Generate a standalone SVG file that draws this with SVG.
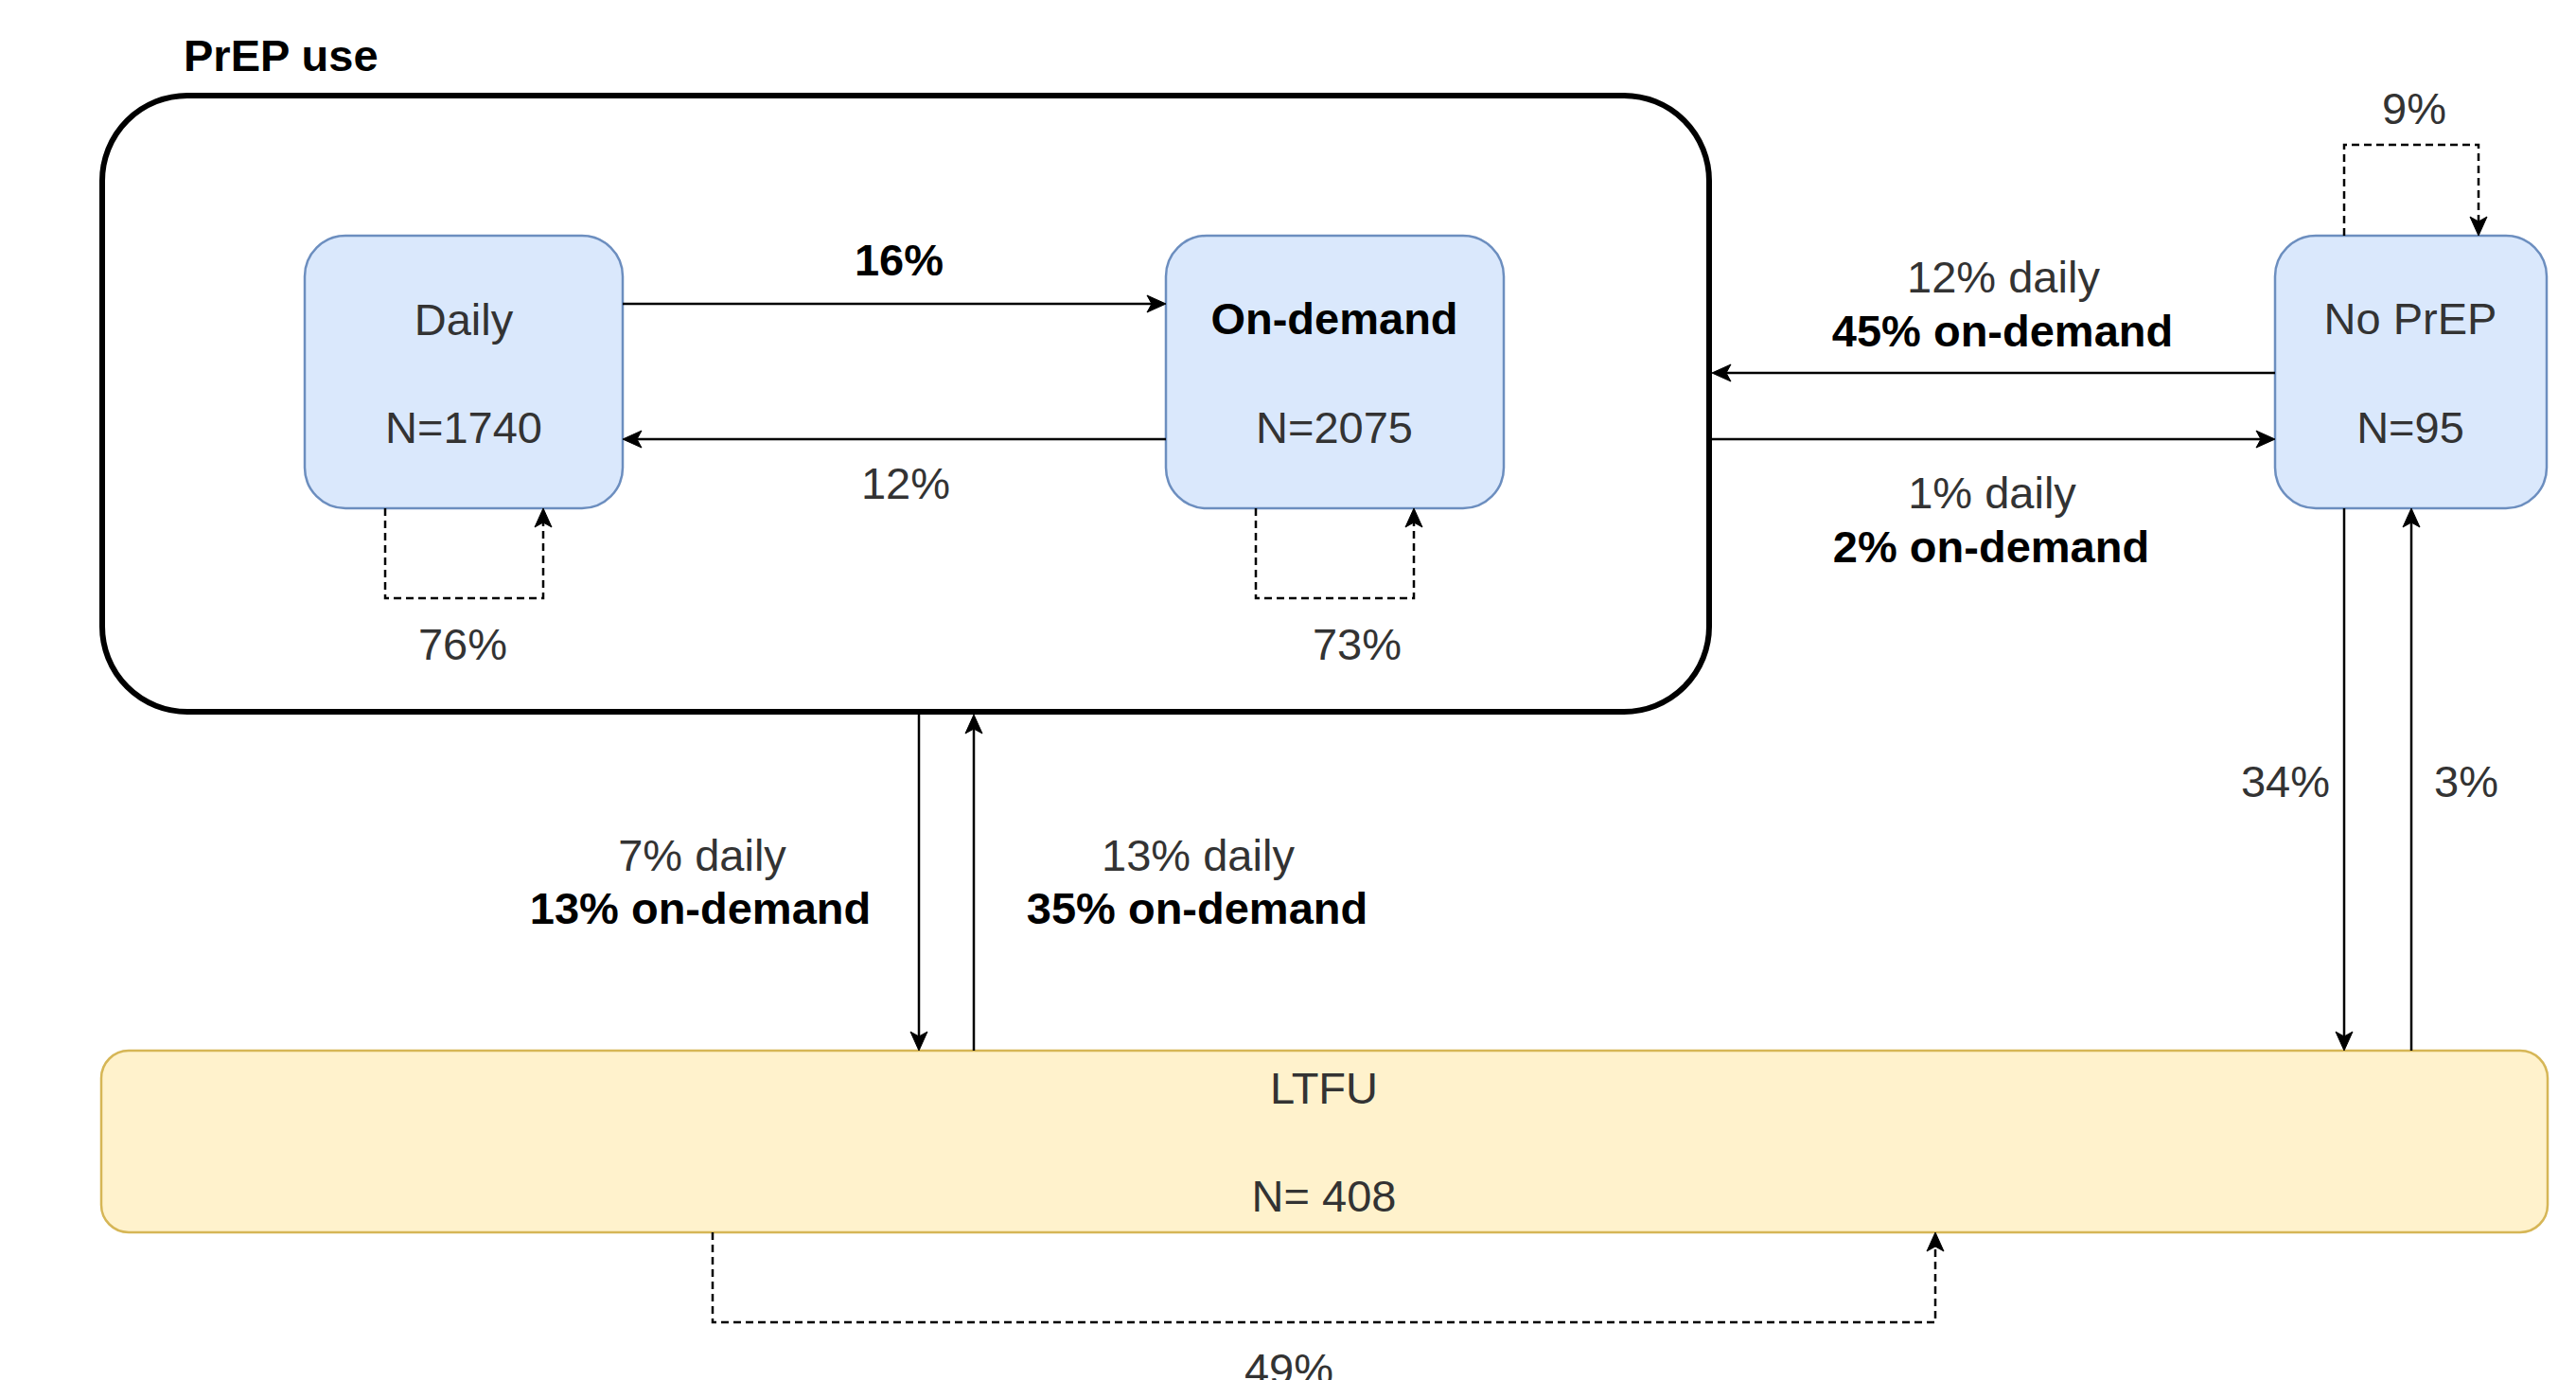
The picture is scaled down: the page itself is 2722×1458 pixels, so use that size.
<svg xmlns="http://www.w3.org/2000/svg" width="2722" height="1458" viewBox="0 0 2722 1458">
  <style>
    text { font-family: "Liberation Sans", Arial, sans-serif; font-size: 47px; fill: #333333; }
    .b { font-weight: bold; fill: #000000; }
    .c { text-anchor: middle; }
    .state { fill: #dae8fc; stroke: #6c8ebf; stroke-width: 2.5; }
    .ltfu { fill: #fff2cc; stroke: #d6b656; stroke-width: 2.5; }
    .group { fill: none; stroke: #000000; stroke-width: 6; }
    .edge { fill: none; stroke: #000000; stroke-width: 2.5; }
    .loop { fill: none; stroke: #000000; stroke-width: 2.5; stroke-dasharray: 8 5; }
  </style>
  <defs>
    <marker id="arrow" markerUnits="userSpaceOnUse" markerWidth="22" markerHeight="22" refX="5" refY="10" orient="auto" overflow="visible">
      <path d="M20,10 L0,1 L5,10 L0,19 Z" fill="#000000" stroke="#000000" stroke-width="1" stroke-linejoin="miter"/>
    </marker>
  </defs>

  <rect width="2722" height="1458" fill="#ffffff"/>

  <!-- PrEP use container -->
  <g id="prep-use">
    <rect class="group" x="108" y="101" width="1698" height="651" rx="90" ry="90"/>
    <text class="b" x="194" y="75">PrEP use</text>
  </g>

  <g id="daily">
    <rect class="state" x="322" y="249" width="336" height="288" rx="43" ry="43"/>
    <text class="c" x="490" y="354">Daily</text>
    <text class="c" x="490" y="468">N=1740</text>
  </g>

  <g id="on-demand">
    <rect class="state" x="1232" y="249" width="357" height="288" rx="43" ry="43"/>
    <text class="c b" x="1410" y="353">On-demand</text>
    <text class="c" x="1410" y="468">N=2075</text>
  </g>

  <g id="no-prep">
    <rect class="state" x="2404" y="249" width="287" height="288" rx="43" ry="43"/>
    <text class="c" x="2547" y="353">No PrEP</text>
    <text class="c" x="2547" y="468">N=95</text>
  </g>

  <g id="ltfu">
    <rect class="ltfu" x="107" y="1110" width="2585" height="192" rx="29" ry="29"/>
    <text class="c" x="1399" y="1166">LTFU</text>
    <text class="c" x="1399" y="1280">N= 408</text>
  </g>

  <!-- transitions -->
  <g id="connectors">
    <path class="edge" d="M658,321 H1217" marker-end="url(#arrow)"/>
    <path class="edge" d="M1232,464 H673" marker-end="url(#arrow)"/>
    <path class="edge" d="M2404,394 H1824" marker-end="url(#arrow)"/>
    <path class="edge" d="M1809,464 H2389" marker-end="url(#arrow)"/>
    <path class="edge" d="M971,755 V1095" marker-end="url(#arrow)"/>
    <path class="edge" d="M1029,1110 V770" marker-end="url(#arrow)"/>
    <path class="edge" d="M2477,537 V1095" marker-end="url(#arrow)"/>
    <path class="edge" d="M2548,1110 V552" marker-end="url(#arrow)"/>

    <!-- staying in the same state -->
    <path class="loop" d="M407,537 V632 H574 V552" marker-end="url(#arrow)"/>
    <path class="loop" d="M1327,537 V632 H1494 V552" marker-end="url(#arrow)"/>
    <path class="loop" d="M2477,249 V153 H2619 V234" marker-end="url(#arrow)"/>
    <path class="loop" d="M753,1302 V1397 H2045 V1317" marker-end="url(#arrow)"/>

    <!-- edge labels -->
    <text class="c b" x="950" y="291">16%</text>
    <text class="c" x="957" y="527">12%</text>
    <text class="c" x="489" y="697">76%</text>
    <text class="c" x="1434" y="697">73%</text>
    <text class="c" x="2117" y="309">12% daily</text>
    <text class="c b" x="2116" y="366">45% on-demand</text>
    <text class="c" x="2105" y="537">1% daily</text>
    <text class="c b" x="2104" y="594">2% on-demand</text>
    <text class="c" x="2551" y="131">9%</text>
    <text class="c" x="742" y="920">7% daily</text>
    <text class="c b" x="740" y="976">13% on-demand</text>
    <text class="c" x="1266" y="920">13% daily</text>
    <text class="c b" x="1265" y="976">35% on-demand</text>
    <text class="c" x="2415" y="842">34%</text>
    <text class="c" x="2606" y="842">3%</text>
    <text class="c" x="1362" y="1463">49%</text>
  </g>
</svg>
